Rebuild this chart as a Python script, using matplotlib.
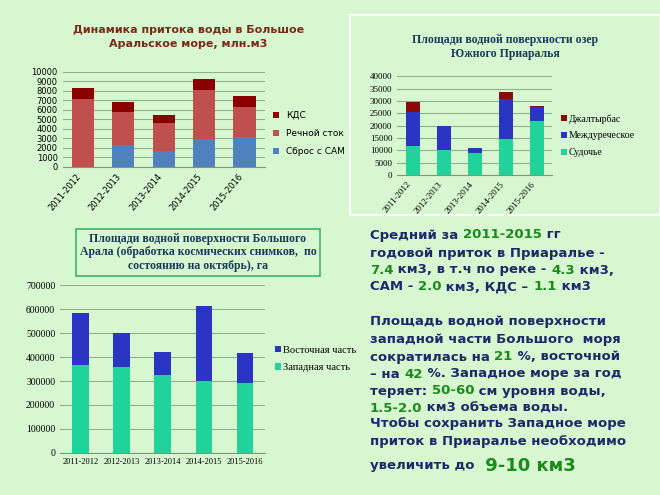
import matplotlib.pyplot as plt
import numpy as np

years = ['2011-2012', '2012-2013', '2013-2014', '2014-2015', '2015-2016']

# приток воды, млн.м3
sbros_sam = [0, 2250, 1650, 2900, 3100]
rechnoy = [7150, 3500, 3000, 5150, 3200]
kds = [1100, 1050, 850, 1150, 1200]

# озера Южного Приаралья
sudochye = [12000, 10200, 9000, 14700, 22000]
mezhdur = [13500, 9800, 2000, 16300, 5500]
dzhaltyr = [4000, 0, 0, 2500, 500]

# Большой Арал, га
zapad = [368000, 360000, 325000, 300000, 292000]
vostok = [217000, 140000, 98000, 313000, 123000]

BG = '#d6f7d0'
GRID = '#8fb08a'
fig = plt.figure(figsize=(6.6, 4.95), dpi=100, facecolor=BG)
x = np.arange(len(years))


def style(ax, ymax, step, fs, serif):
    ax.set_facecolor(BG)
    ax.set_ylim(0, ymax)
    ax.set_yticks(range(0, ymax + 1, step))
    ax.yaxis.grid(True, color=GRID, lw=0.8)
    ax.set_axisbelow(True)
    for s in ['top', 'right', 'left']:
        ax.spines[s].set_visible(False)
    ax.spines['bottom'].set_color('#7a9a7a')
    ax.tick_params(length=0, labelsize=fs)
    ax.set_xlim(-0.5, len(years) - 0.5)
    fam = 'Liberation Serif' if serif else 'DejaVu Sans'
    for t in ax.get_yticklabels() + ax.get_xticklabels():
        t.set_family(fam)


# график 1
ax1 = fig.add_axes([0.095, 0.663, 0.306, 0.192])
ax1.bar(x, sbros_sam, 0.55, color='#4f81bd', label='Сброс с САМ')
ax1.bar(x, rechnoy, 0.55, bottom=sbros_sam, color='#c0504d', label='Речной сток')
ax1.bar(x, kds, 0.55, bottom=np.add(sbros_sam, rechnoy), color='#8b0000', label='КДС')
ax1.set_xticks(x, years, rotation=50, ha='right')
style(ax1, 10000, 1000, 6, False)
h, l = ax1.get_legend_handles_labels()
ax1.legend(h[::-1], l[::-1], loc='center left', bbox_to_anchor=(1.0, 0.35),
           frameon=False, fontsize=6.5, handlelength=0.7, handleheight=0.7,
           labelspacing=1.0)
fig.text(0.285, 0.925, 'Динамика притока воды в Большое\nАральское море, млн.м3',
         ha='center', va='center', fontsize=8, fontweight='bold',
         color='#7a2a1a', linespacing=1.5)

# график 2 в белой рамке
fig.patches.append(plt.Rectangle((0.53, 0.565), 0.47, 0.405, transform=fig.transFigure,
                                 fill=False, ec='white', lw=1.5))
ax2 = fig.add_axes([0.602, 0.646, 0.235, 0.2])
ax2.bar(x, sudochye, 0.45, color='#1fd39a', label='Судочье')
ax2.bar(x, mezhdur, 0.45, bottom=sudochye, color='#2b35c4', label='Междуреческое')
ax2.bar(x, dzhaltyr, 0.45, bottom=np.add(sudochye, mezhdur), color='#8b0a0a',
        label='Джалтырбас')
ax2.set_xticks(x, years, rotation=50, ha='right')
style(ax2, 40000, 5000, 6.5, True)
h, l = ax2.get_legend_handles_labels()
ax2.legend(h[::-1], l[::-1], loc='center left', bbox_to_anchor=(1.0, 0.4),
           frameon=False, prop={'family': 'Liberation Serif', 'size': 7},
           handlelength=0.6, handleheight=0.6, handletextpad=0.2, labelspacing=0.8)
fig.text(0.765, 0.905, 'Площади водной поверхности озер\nЮжного Приаралья',
         ha='center', va='center', fontsize=8.5, fontweight='bold',
         family='Liberation Serif', color='#1b3a5a')

# график 3
ax3 = fig.add_axes([0.091, 0.085, 0.311, 0.339])
ax3.bar(x, zapad, 0.4, color='#1fd39a', label='Западная часть')
ax3.bar(x, vostok, 0.4, bottom=zapad, color='#2b35c4', label='Восточная часть')
ax3.set_xticks(x, years)
style(ax3, 700000, 100000, 7, True)
for t in ax3.get_xticklabels():
    t.set_fontsize(6)
h, l = ax3.get_legend_handles_labels()
ax3.legend(h[::-1], l[::-1], loc='center left', bbox_to_anchor=(1.0, 0.56),
           frameon=False, prop={'family': 'Liberation Serif', 'size': 7.5},
           handlelength=0.6, handleheight=0.6, handletextpad=0.2, labelspacing=0.8)
fig.text(0.3, 0.49, 'Площади водной поверхности Большого\nАрала (обработка космических снимков,  по\nсостоянию на октябрь), га',
         ha='center', va='center', fontsize=8.5, fontweight='bold',
         family='Liberation Serif', color='#1b3a5a', linespacing=1.2,
         bbox=dict(boxstyle='square,pad=0.3', fc=BG, ec='#3cb371', lw=1.2))

# текст справа: синий текст с зелеными числами
B = '#1b2a6b'
G = '#1a8a1a'
FS = 9.5
lines = [
    (235, [('Средний за ', B), ('2011-2015', G), (' гг', B)]),
    (253, [('годовой приток в Приаралье - ', B)]),
    (270, [('7.4', G), (' км3, в т.ч по реке - ', B), ('4.3', G), (' км3,', B)]),
    (287, [('САМ - ', B), ('2.0', G), (' км3, КДС – ', B), ('1.1', G), (' км3', B)]),
    (322, [('Площадь водной поверхности', B)]),
    (340, [('западной части Большого  моря', B)]),
    (357, [('сократилась на ', B), ('21', G), (' %, восточной', B)]),
    (374, [('– на ', B), ('42', G), (' %. Западное море за год', B)]),
    (391, [('теряет: ', B), ('50-60', G), (' см уровня воды,', B)]),
    (408, [('1.5-2.0', G), (' км3 объема воды.', B)]),
    (424, [('Чтобы сохранить Западное море', B)]),
    (441, [('приток в Приаралье необходимо', B)]),
]
for y, parts in lines:
    last = None
    for s, c in parts:
        if last is None:
            last = fig.text(370 / 660, 1 - y / 495, s, fontsize=FS, fontweight='bold',
                            color=c, va='center')
        else:
            last = fig.add_artist(plt.Annotation(
                s, xy=(1, 0.5), xycoords=last, va='center', fontsize=FS,
                fontweight='bold', color=c, annotation_clip=False))
t = fig.text(370 / 660, 1 - 466 / 495, 'увеличить до ', fontsize=FS,
             fontweight='bold', color=B, va='center')
fig.add_artist(plt.Annotation(' 9-10 км3', xy=(1, 0.5), xycoords=t, va='center',
                              fontsize=13, fontweight='bold', color=G,
                              annotation_clip=False))

fig.savefig('out.png', dpi=100, facecolor=BG)
